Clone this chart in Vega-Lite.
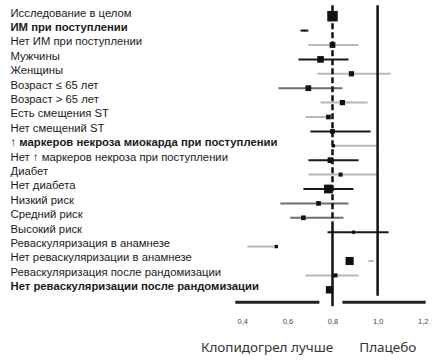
{
  "$schema": "https://vega.github.io/schema/vega-lite/v6.json",
  "width": 203,
  "height": 302.4,
  "autosize": {"type": "none"},
  "padding": {"left": 231, "top": 6, "right": 0, "bottom": 52},
  "background": "white",
  "config": {"view": {"stroke": null}, "font": "Liberation Sans"},
  "datasets": {
    "rows": [
      {"label": "Исследование в целом", "est": 0.80, "lo": 0.78, "hi": 0.82, "weight": 10, "emph": "dark"},
      {"label": "ИМ при поступлении", "est": 0.675, "lo": 0.658, "hi": 0.693, "weight": 0.3, "emph": "dark"},
      {"label": "Нет ИМ при поступлении", "est": 0.80, "lo": 0.693, "hi": 0.916, "weight": 3, "emph": "light"},
      {"label": "Мужчины", "est": 0.747, "lo": 0.649, "hi": 0.871, "weight": 4, "emph": "dark"},
      {"label": "Женщины", "est": 0.884, "lo": 0.733, "hi": 1.058, "weight": 2.5, "emph": "light"},
      {"label": "Возраст ≤ 65 лет", "est": 0.693, "lo": 0.56, "hi": 0.844, "weight": 3, "emph": "mid"},
      {"label": "Возраст > 65 лет", "est": 0.844, "lo": 0.747, "hi": 0.956, "weight": 2.5, "emph": "light"},
      {"label": "Есть смещения ST", "est": 0.782, "lo": 0.68, "hi": 0.791, "weight": 2, "emph": "light"},
      {"label": "Нет смещений ST", "est": 0.80, "lo": 0.702, "hi": 0.969, "weight": 2, "emph": "dark"},
      {"label": "↑ маркеров некроза миокарда при поступлении", "est": 0.804, "lo": 0.80, "hi": 1.0, "weight": 1, "emph": "light"},
      {"label": "Нет ↑ маркеров некроза при поступлении", "est": 0.791, "lo": 0.693, "hi": 0.916, "weight": 3, "emph": "dark"},
      {"label": "Диабет", "est": 0.836, "lo": 0.693, "hi": 1.0, "weight": 1.5, "emph": "light"},
      {"label": "Нет диабета", "est": 0.782, "lo": 0.671, "hi": 0.893, "weight": 7, "emph": "dark"},
      {"label": "Низкий риск", "est": 0.738, "lo": 0.569, "hi": 0.871, "weight": 2, "emph": "mid"},
      {"label": "Средний риск", "est": 0.671, "lo": 0.613, "hi": 0.849, "weight": 2, "emph": "mid"},
      {"label": "Высокий риск", "est": 0.893, "lo": 0.778, "hi": 1.049, "weight": 1, "emph": "dark"},
      {"label": "Реваскуляризация в анамнезе", "est": 0.551, "lo": 0.422, "hi": 0.556, "weight": 1, "emph": "light"},
      {"label": "Нет реваскуляризации в анамнезе", "est": 0.876, "lo": 0.96, "hi": 0.982, "weight": 6, "emph": "light"},
      {"label": "Реваскуляризация после рандомизации", "est": 0.813, "lo": 0.68, "hi": 0.916, "weight": 1.5, "emph": "light"},
      {"label": "Нет реваскуляризации после рандомизации", "est": 0.787, "lo": 0.787, "hi": 0.787, "weight": 5, "emph": "dark"}
    ],
    "refs": [
      {"x": 0.8, "from": "Исследование в целом", "to": "Высокий риск", "kind": "dashed"},
      {"x": 0.8, "from": "Высокий риск", "to": "_axis", "kind": "solid"},
      {"x": 1.0, "from": "Исследование в целом", "to": "Нет реваскуляризации после рандомизации", "kind": "solid"}
    ],
    "axisline": [
      {"a": 0.369, "b": 0.742, "row": "_axis"},
      {"a": 0.844, "b": 1.213, "row": "_axis"}
    ],
    "captions": [
      {"x": 0.51, "row": "_axis", "text": "Клопидогрел лучше"},
      {"x": 1.045, "row": "_axis", "text": "Плацебо"}
    ]
  },
  "encoding": {
    "y": {
      "type": "nominal",
      "scale": {
        "type": "point",
        "padding": 0.5,
        "domain": [
          "Исследование в целом", "ИМ при поступлении", "Нет ИМ при поступлении", "Мужчины", "Женщины",
          "Возраст ≤ 65 лет", "Возраст > 65 лет", "Есть смещения ST", "Нет смещений ST",
          "↑ маркеров некроза миокарда при поступлении", "Нет ↑ маркеров некроза при поступлении",
          "Диабет", "Нет диабета", "Низкий риск", "Средний риск", "Высокий риск",
          "Реваскуляризация в анамнезе", "Нет реваскуляризации в анамнезе",
          "Реваскуляризация после рандомизации", "Нет реваскуляризации после рандомизации", "_axis"
        ]
      }
    }
  },
  "layer": [
    {
      "data": {"name": "rows"},
      "mark": {"type": "rule", "strokeWidth": 2, "yOffset": 3},
      "encoding": {
        "y": {
          "field": "label", "type": "nominal", "sort": null,
          "axis": {
            "title": null, "domain": false, "ticks": false,
            "labelAlign": "left", "labelPadding": 221, "labelLimit": 0,
            "labelFontSize": 11.3, "labelColor": "#1a1a1a",
            "labelFontWeight": {"condition": {"test": "datum.value == 'ИМ при поступлении' || datum.value == '↑ маркеров некроза миокарда при поступлении' || datum.value == 'Нет реваскуляризации после рандомизации'", "value": "bold"}, "value": "normal"},
            "labelExpr": "datum.value == '_axis' ? '' : datum.value"
          }
        },
        "x": {
          "field": "lo", "type": "quantitative",
          "scale": {"domain": [0.35, 1.25], "nice": false, "zero": false},
          "axis": {
            "title": null, "domain": false, "ticks": false, "grid": false,
            "values": [0.4, 0.6, 0.8, 1.0, 1.2],
            "labelExpr": "replace(format(datum.value, '.1f'), '.', ',')",
            "labelFontSize": 7.5, "labelColor": "#444", "labelFontWeight": "normal", "labelPadding": 9
          }
        },
        "x2": {"field": "hi"},
        "color": {
          "field": "emph", "type": "nominal", "legend": null,
          "scale": {"domain": ["dark", "mid", "light"], "range": ["#1a1a1a", "#6e6e6e", "#b8b8b8"]}
        }
      }
    },
    {
      "data": {"name": "refs"},
      "transform": [{"filter": "datum.kind == 'dashed'"}],
      "mark": {"type": "rule", "strokeWidth": 2.5, "strokeDash": [6, 3], "color": "#111", "yOffset": -8, "y2Offset": -7},
      "encoding": {
        "x": {"field": "x", "type": "quantitative"},
        "y": {"field": "from", "type": "nominal"},
        "y2": {"field": "to"}
      }
    },
    {
      "data": {"name": "refs"},
      "transform": [{"filter": "datum.kind == 'solid' && datum.x == 0.8"}],
      "mark": {"type": "rule", "strokeWidth": 2.5, "color": "#111", "yOffset": -7, "y2Offset": 5},
      "encoding": {
        "x": {"field": "x", "type": "quantitative"},
        "y": {"field": "from", "type": "nominal"},
        "y2": {"field": "to"}
      }
    },
    {
      "data": {"name": "refs"},
      "transform": [{"filter": "datum.kind == 'solid' && datum.x == 1.0"}],
      "mark": {"type": "rule", "strokeWidth": 2.5, "color": "#111", "yOffset": -8, "y2Offset": 9},
      "encoding": {
        "x": {"field": "x", "type": "quantitative"},
        "y": {"field": "from", "type": "nominal"},
        "y2": {"field": "to"}
      }
    },
    {
      "data": {"name": "rows"},
      "mark": {"type": "square", "filled": true, "color": "#111", "opacity": 1, "yOffset": 3},
      "encoding": {
        "x": {"field": "est", "type": "quantitative"},
        "y": {"field": "label", "type": "nominal"},
        "size": {"field": "weight", "type": "quantitative", "legend": null, "scale": {"domain": [0, 10], "range": [0, 110]}}
      }
    },
    {
      "data": {"name": "axisline"},
      "mark": {"type": "rule", "strokeWidth": 3, "color": "#222", "yOffset": 1},
      "encoding": {
        "x": {"field": "a", "type": "quantitative"},
        "x2": {"field": "b"},
        "y": {"field": "row", "type": "nominal"}
      }
    },
    {
      "data": {"name": "captions"},
      "mark": {"type": "text", "font": "Noto Sans", "fontSize": 13.5, "color": "#333", "dy": 47},
      "encoding": {
        "x": {"field": "x", "type": "quantitative"},
        "y": {"field": "row", "type": "nominal"},
        "text": {"field": "text"}
      }
    }
  ]
}
